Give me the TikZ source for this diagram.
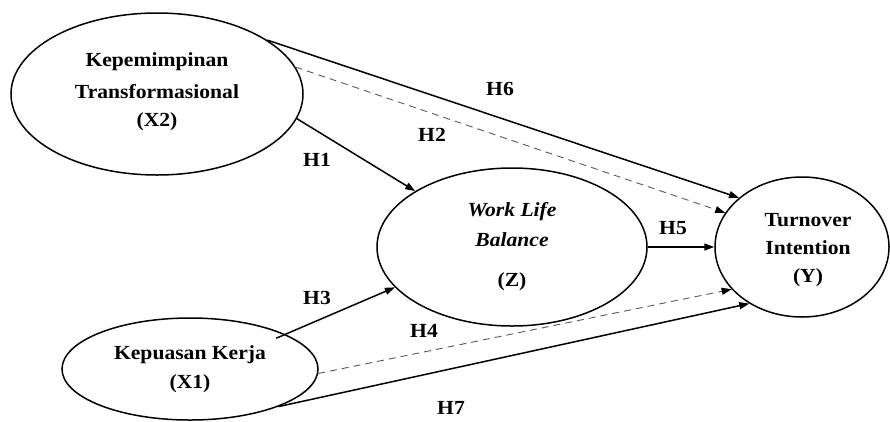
\documentclass[tikz,border=0pt]{standalone}
\usepackage{fontspec}
\setmainfont{Liberation Serif}[FakeStretch=1.08]
\usetikzlibrary{shapes.geometric,arrows.meta}
\tikzset{
  var/.style={ellipse, draw, line width=1.5pt, inner sep=0pt, align=center,
    font=\fontsize{20}{29}\selectfont\bfseries},
  lbl/.style={font=\fontsize{20}{24}\selectfont\bfseries, inner sep=0pt},
  sol/.style={line width=1.5pt, -{Triangle[length=10pt,width=7pt]}},
  dsh/.style={line width=0.9pt, draw=black!65, dash pattern=on 7pt off 5pt,
    -{Triangle[length=10pt,width=7pt,color=black,fill=black]}}
}
\begin{document}
\begin{tikzpicture}[x=1pt,y=-1pt]
\useasboundingbox (0,0) rectangle (890,421);
\node[var, minimum width=292pt, minimum height=162pt] (x2) at (157,94) {};
\node[var, minimum width=256pt, minimum height=102pt] (x1) at (190,369) {};
\node[var, minimum width=270pt, minimum height=158pt] (z) at (512,247) {};
\node[var, minimum width=174pt, minimum height=140pt] (y) at (802,247) {};
% texts
\node[lbl] (t2a) at (157,62) {Kepemimpinan};
\node[lbl] (t2b) at (157,92) {Transformasional};
\node[lbl] (t2c) at (157,122) {(X2)};
\node[lbl] (t1a) at (190,355) {Kepuasan Kerja};
\node[lbl] (t1b) at (190,384) {(X1)};
\node[lbl, font=\fontsize{20}{24}\selectfont\bfseries\itshape] (tza) at (512,212) {Work Life};
\node[lbl, font=\fontsize{20}{24}\selectfont\bfseries\itshape] (tzb) at (512,240) {Balance};
\node[lbl] (tzc) at (512,282) {(Z)};
\node[lbl] (tya) at (808,220) {Turnover};
\node[lbl] (tyb) at (808,248) {Intention};
\node[lbl] (tyc) at (808,278) {(Y)};
% connectors
\draw[sol] (x2.26) -- (y.142);
\draw[dsh] (x2.11) -- (y.156);
\draw[sol] (x2.-10) -- (z.150);
\draw[sol, shorten <=-10pt] (x1.20) -- (z.199);
\draw[dsh] (x1.-2) -- (y.211);
\draw[sol] (x1.-23) -- (y.227);
\draw[sol] (z.east) -- (y.west);
% labels
\node[lbl] (h6) at (500,89) {H6};
\node[lbl] (h2) at (432,135) {H2};
\node[lbl] (h1) at (317,160) {H1};
\node[lbl] (h3) at (317,298) {H3};
\node[lbl] (h4) at (424,331) {H4};
\node[lbl] (h5) at (673,228) {H5};
\node[lbl] (h7) at (451,408) {H7};
\end{tikzpicture}
\end{document}
